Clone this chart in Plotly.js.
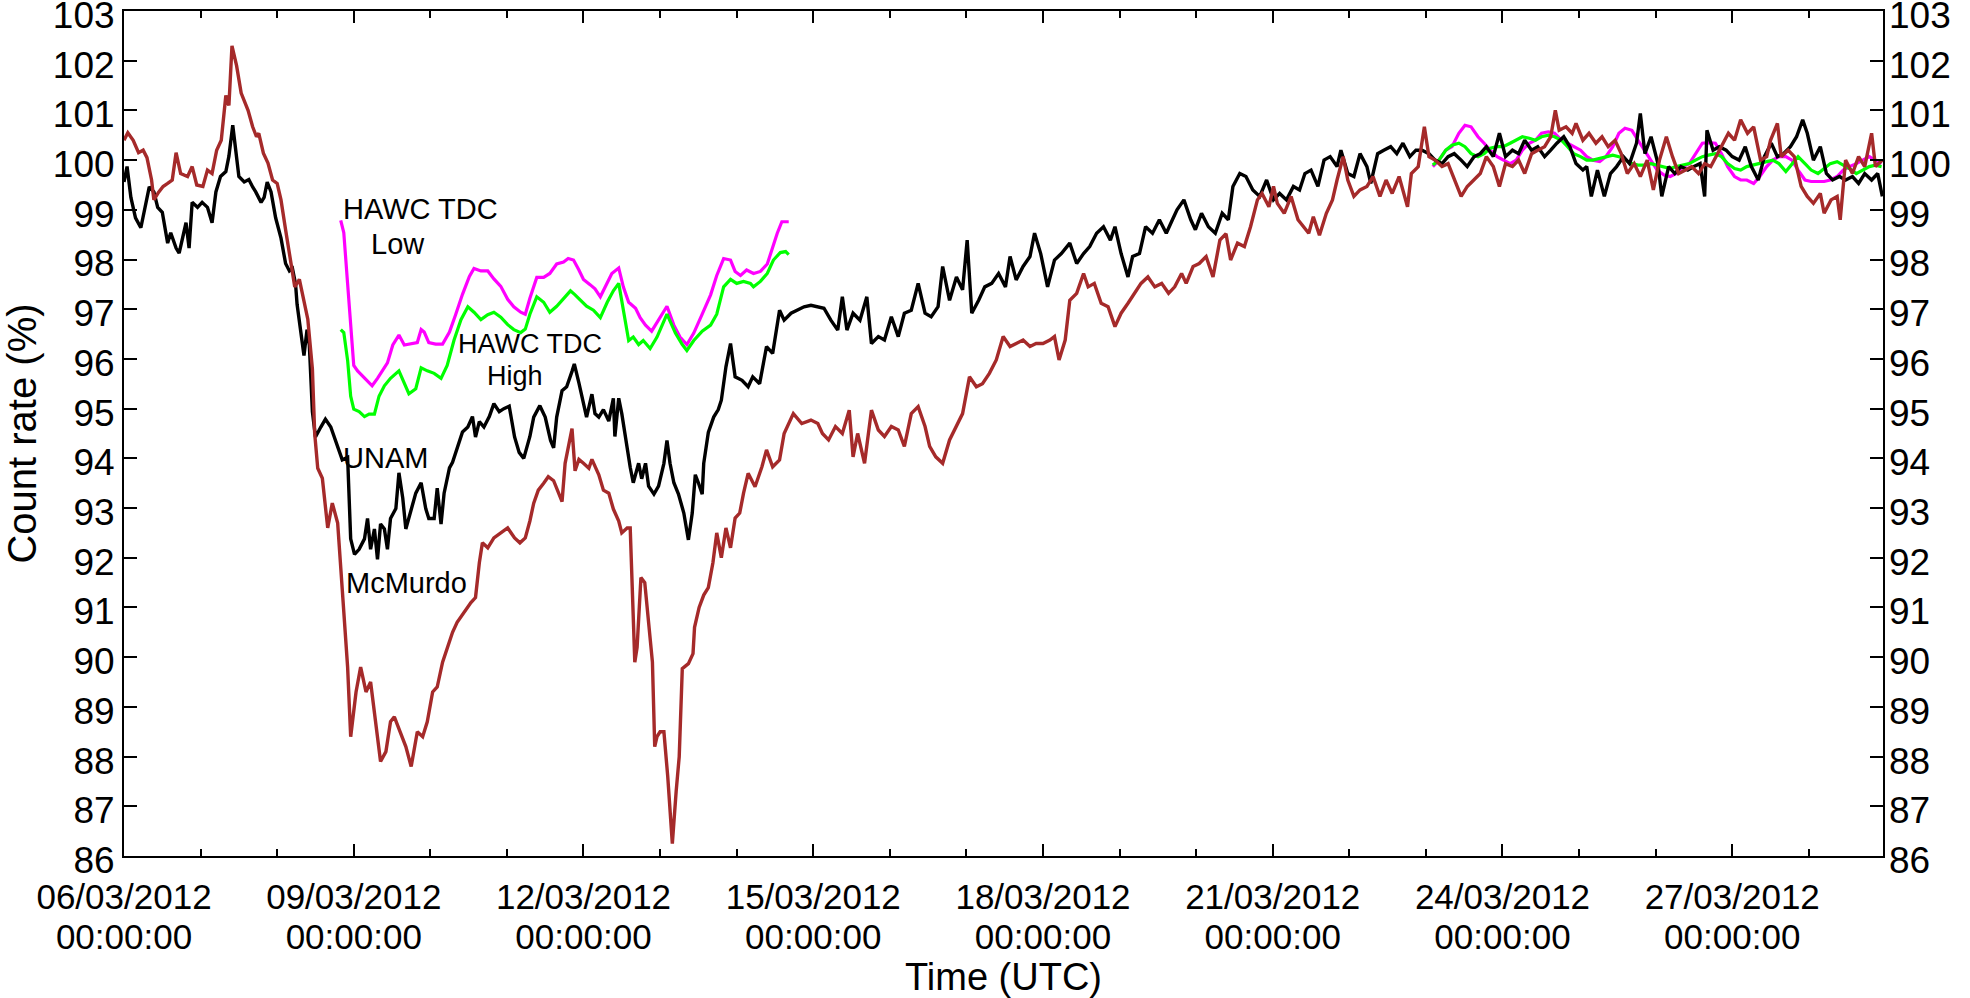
<!DOCTYPE html>
<html>
<head>
<meta charset="utf-8">
<script src="https://cdn.plot.ly/plotly-3.0.1.min.js"></script>
<style>
  html, body { margin: 0; padding: 0; background: #fff; }
  #plot { width: 1970px; height: 998px; }
</style>
</head>
<body>
<div id="plot"></div>
<script>
// time is given as days after 06/03/2012 00:00 UTC
var tickDates = ['2012-03-06', '2012-03-09', '2012-03-12', '2012-03-15', '2012-03-18', '2012-03-21', '2012-03-24', '2012-03-27'];
var tickDateLabels = ['06/03/2012', '09/03/2012', '12/03/2012', '15/03/2012', '18/03/2012', '21/03/2012', '24/03/2012', '27/03/2012'];
var tickTimeLabels = ['00:00:00', '00:00:00', '00:00:00', '00:00:00', '00:00:00', '00:00:00', '00:00:00', '00:00:00'];

// McMurdo neutron monitor
var mcmDays = [0.00,0.05,0.12,0.19,0.25,0.30,0.36,0.39,0.45,0.51,0.57,0.63,0.68,0.74,0.83,0.89,0.95,1.03,1.09,1.15,1.21,1.27,1.33,1.37,1.41,1.47,1.53,1.62,1.68,1.73,1.76,1.82,1.88,1.94,2.00,2.05,2.11,2.17,2.23,2.29,2.35,2.40,2.46,2.49,2.53,2.59,2.66,2.72,2.79,2.87,2.92,2.96,3.03,3.09,3.16,3.22,3.29,3.35,3.42,3.48,3.53,3.61,3.68,3.75,3.83,3.90,3.96,4.03,4.09,4.16,4.22,4.29,4.35,4.44,4.53,4.59,4.64,4.68,4.75,4.83,4.92,5.01,5.10,5.17,5.24,5.30,5.35,5.41,5.48,5.54,5.61,5.67,5.72,5.76,5.80,5.85,5.89,5.94,6.00,6.07,6.11,6.20,6.26,6.33,6.39,6.46,6.50,6.57,6.61,6.64,6.67,6.70,6.75,6.80,6.86,6.90,6.93,6.96,7.00,7.05,7.10,7.16,7.21,7.25,7.29,7.37,7.43,7.45,7.51,7.57,7.63,7.69,7.74,7.80,7.86,7.92,7.98,8.04,8.09,8.15,8.24,8.33,8.39,8.47,8.56,8.62,8.74,8.85,8.97,9.06,9.12,9.20,9.29,9.38,9.47,9.52,9.58,9.67,9.76,9.85,9.93,10.02,10.11,10.19,10.28,10.37,10.46,10.52,10.60,10.69,10.78,10.87,10.95,11.04,11.13,11.21,11.30,11.39,11.48,11.57,11.65,11.74,11.83,11.91,12.00,12.09,12.15,12.21,12.29,12.35,12.44,12.53,12.59,12.67,12.76,12.85,12.94,13.02,13.11,13.20,13.28,13.37,13.46,13.55,13.64,13.72,13.81,13.87,13.96,14.04,14.13,14.22,14.31,14.39,14.45,14.54,14.63,14.71,14.80,14.86,14.95,15.01,15.06,15.15,15.24,15.33,15.41,15.47,15.53,15.61,15.70,15.78,15.84,15.92,15.98,16.06,16.14,16.23,16.31,16.40,16.48,16.56,16.65,16.76,16.81,16.90,16.98,17.04,17.12,17.21,17.29,17.37,17.46,17.54,17.63,17.71,17.79,17.88,17.96,18.04,18.13,18.21,18.29,18.38,18.46,18.55,18.63,18.69,18.74,18.83,18.91,18.96,19.05,19.13,19.22,19.30,19.38,19.47,19.55,19.63,19.72,19.80,19.89,19.97,20.05,20.14,20.22,20.30,20.39,20.47,20.56,20.64,20.72,20.81,20.89,20.95,21.03,21.11,21.20,21.28,21.37,21.45,21.50,21.59,21.64,21.73,21.81,21.90,21.98,22.06,22.15,22.20,22.29,22.37,22.41,22.48,22.57,22.65,22.73,22.82,22.87,22.96];
var mcmVals = [100.4,100.55,100.4,100.15,100.2,100.05,99.6,99.2,99.35,99.47,99.53,99.6,100.15,99.73,99.67,99.87,99.5,99.47,99.8,99.73,100.2,100.4,101.3,101.1,102.3,101.9,101.35,101.0,100.67,100.47,100.54,100.14,99.94,99.6,99.53,99.2,98.6,98.0,97.45,97.6,97.18,96.8,95.8,94.5,93.8,93.6,92.6,93.1,92.7,90.8,89.8,88.4,89.3,89.8,89.3,89.5,88.6,87.9,88.1,88.7,88.8,88.5,88.2,87.8,88.5,88.4,88.7,89.3,89.4,89.9,90.2,90.5,90.7,90.9,91.1,91.2,91.9,92.3,92.2,92.4,92.5,92.6,92.4,92.3,92.4,92.74,93.1,93.36,93.5,93.63,93.55,93.3,93.13,93.9,94.2,94.6,93.75,93.98,93.9,93.8,93.98,93.67,93.36,93.3,92.98,92.74,92.5,92.6,92.6,91.0,89.9,90.2,91.6,91.5,90.6,89.9,88.2,88.4,88.5,88.5,87.6,86.25,87.3,88.0,89.77,89.87,90.07,90.6,91.0,91.25,91.4,91.9,92.5,92.0,92.6,92.2,92.8,92.9,93.3,93.7,93.43,93.83,94.17,93.83,93.97,94.5,94.9,94.7,94.77,94.7,94.5,94.37,94.64,94.5,94.97,94.03,94.5,93.9,94.97,94.57,94.44,94.64,94.57,94.24,94.9,95.04,94.64,94.24,94.03,93.9,94.37,94.64,94.9,95.64,95.44,95.5,95.71,95.98,96.45,96.25,96.31,96.38,96.25,96.31,96.31,96.38,96.45,95.98,96.38,97.18,97.32,97.72,97.45,97.52,97.12,97.05,96.65,96.92,97.12,97.32,97.52,97.65,97.45,97.52,97.32,97.45,97.72,97.52,97.86,97.92,98.06,97.65,98.39,98.52,97.99,98.33,98.26,98.66,99.2,99.33,99.06,99.47,99.13,98.93,99.27,98.8,98.66,98.53,98.86,98.49,98.93,99.2,99.6,100.07,99.6,99.27,99.4,99.47,99.67,99.27,99.6,99.33,99.67,99.06,99.73,99.87,100.67,100.07,100.0,99.87,99.93,99.6,99.27,99.47,99.6,99.73,100.07,99.87,99.47,99.93,99.87,100.0,99.73,100.13,100.2,100.27,100.47,101.0,100.6,100.67,100.54,100.74,100.4,100.54,100.34,100.47,100.27,100.4,100.13,99.73,99.93,99.67,100.0,99.4,100.0,100.47,100.07,99.73,99.8,99.87,99.73,99.93,99.87,100.13,100.34,100.54,100.4,100.81,100.54,100.67,100.0,100.07,100.4,100.74,100.07,100.2,100.07,99.47,99.27,99.13,99.33,98.93,99.2,99.27,98.8,100.0,99.73,100.07,99.87,100.54,99.87,100.0];

// UNAM neutron monitor
var unamDays = [0.00,0.04,0.09,0.15,0.22,0.26,0.33,0.39,0.44,0.50,0.57,0.61,0.68,0.72,0.76,0.81,0.85,0.89,0.96,1.02,1.09,1.15,1.20,1.26,1.33,1.37,1.42,1.46,1.50,1.57,1.63,1.68,1.72,1.79,1.83,1.87,1.92,1.98,2.05,2.11,2.16,2.20,2.24,2.26,2.31,2.35,2.39,2.42,2.46,2.50,2.57,2.63,2.70,2.79,2.85,2.92,2.96,3.01,3.07,3.14,3.18,3.22,3.27,3.31,3.35,3.40,3.44,3.48,3.55,3.59,3.64,3.68,3.75,3.81,3.88,3.94,3.98,4.05,4.09,4.14,4.18,4.25,4.29,4.35,4.42,4.49,4.55,4.59,4.64,4.70,4.77,4.83,4.90,4.96,5.03,5.10,5.16,5.22,5.26,5.30,5.35,5.43,5.50,5.57,5.61,5.65,5.72,5.78,5.85,5.88,5.94,5.98,6.04,6.11,6.15,6.20,6.26,6.33,6.39,6.41,6.46,6.50,6.55,6.61,6.65,6.72,6.76,6.81,6.85,6.92,6.98,7.05,7.09,7.13,7.18,7.24,7.31,7.37,7.42,7.46,7.50,7.55,7.57,7.63,7.70,7.76,7.80,7.86,7.92,7.98,8.07,8.15,8.21,8.30,8.39,8.47,8.56,8.62,8.71,8.80,8.88,8.97,9.06,9.14,9.23,9.32,9.38,9.44,9.52,9.61,9.70,9.76,9.85,9.93,10.02,10.11,10.19,10.28,10.37,10.46,10.54,10.63,10.69,10.78,10.87,10.95,11.01,11.07,11.16,11.24,11.33,11.42,11.51,11.57,11.65,11.74,11.83,11.89,11.97,12.06,12.15,12.24,12.35,12.44,12.53,12.61,12.70,12.79,12.88,12.94,13.02,13.11,13.17,13.26,13.34,13.43,13.52,13.61,13.69,13.75,13.84,13.93,13.99,14.07,14.16,14.25,14.34,14.42,14.48,14.57,14.65,14.74,14.83,14.92,15.01,15.09,15.18,15.27,15.35,15.42,15.50,15.59,15.67,15.75,15.84,15.89,15.98,16.06,16.14,16.23,16.28,16.37,16.45,16.54,16.62,16.70,16.79,16.87,16.95,17.04,17.12,17.21,17.29,17.37,17.46,17.54,17.63,17.71,17.79,17.88,17.96,18.04,18.13,18.21,18.29,18.38,18.46,18.55,18.63,18.71,18.80,18.88,18.96,19.05,19.10,19.16,19.24,19.33,19.41,19.49,19.58,19.66,19.75,19.80,19.86,19.94,20.03,20.08,20.17,20.25,20.33,20.42,20.50,20.58,20.64,20.67,20.75,20.83,20.92,21.00,21.09,21.17,21.25,21.34,21.42,21.51,21.59,21.67,21.76,21.84,21.92,21.98,22.06,22.15,22.23,22.31,22.40,22.48,22.57,22.65,22.73,22.82,22.90,22.96];
var unamVals = [99.56,99.87,99.25,98.84,98.64,98.95,99.46,99.36,99.05,98.95,98.33,98.54,98.23,98.13,98.43,98.74,98.23,99.15,99.05,99.15,99.05,98.74,99.36,99.67,99.77,100.08,100.7,100.18,99.67,99.56,99.61,99.46,99.36,99.15,99.25,99.56,99.36,98.84,98.43,97.92,97.77,97.82,97.51,97.1,96.48,96.07,96.59,96.28,94.94,94.43,94.63,94.79,94.63,94.22,93.97,94.02,92.38,92.07,92.17,92.38,92.79,92.17,92.58,91.97,92.68,92.58,92.17,92.79,92.99,93.71,93.2,92.58,92.99,93.3,93.51,92.99,92.79,92.79,93.4,92.68,93.3,93.81,93.92,94.22,94.53,94.63,94.84,94.43,94.74,94.63,94.84,95.1,94.94,95.0,95.05,94.43,94.12,94.0,94.2,94.44,94.83,95.06,94.83,94.36,94.21,94.83,95.36,95.44,95.75,95.9,95.52,95.21,94.83,95.29,94.9,94.83,94.98,94.75,95.21,94.44,95.21,94.9,94.36,93.82,93.51,93.9,93.59,93.9,93.44,93.28,93.44,93.9,94.36,93.9,93.51,93.28,92.9,92.36,92.9,93.67,93.51,93.28,93.9,94.52,94.83,94.98,95.17,95.84,96.31,95.64,95.57,95.44,95.64,95.5,96.25,96.11,96.98,96.78,96.92,96.98,97.05,97.08,97.05,97.02,96.78,96.58,97.25,96.58,96.92,96.78,97.25,96.31,96.45,96.38,96.85,96.45,96.92,96.98,97.52,96.92,96.85,97.05,97.86,97.18,97.65,97.39,98.39,96.92,97.18,97.45,97.52,97.72,97.45,98.06,97.59,97.86,98.06,98.53,98.12,97.45,97.99,98.12,98.33,97.92,98.12,98.26,98.53,98.66,98.39,98.66,98.12,97.65,98.06,98.12,98.66,98.53,98.8,98.53,98.8,99.0,99.2,98.8,98.6,98.93,98.66,98.53,98.93,98.8,99.47,99.73,99.67,99.4,99.27,99.6,99.2,99.33,99.2,99.47,99.4,99.73,99.8,99.47,100.0,100.07,99.87,100.2,99.73,99.67,100.13,99.87,99.53,100.13,100.2,100.27,100.13,100.34,100.07,100.2,100.2,100.13,100.0,99.93,100.07,100.13,100.0,99.87,100.07,100.13,100.27,100.07,100.54,100.07,100.2,100.13,100.4,100.2,100.27,100.07,100.2,100.34,100.47,100.27,99.93,99.8,99.87,99.27,99.8,99.27,99.73,99.87,100.07,99.93,100.34,100.94,100.13,100.47,99.93,99.27,99.87,99.73,99.87,99.8,99.87,99.93,99.27,100.6,100.2,100.27,100.2,100.07,100.0,100.27,99.87,99.6,100.07,100.34,100.07,100.13,100.27,100.47,100.81,100.54,100.0,100.27,99.73,99.6,99.67,99.6,99.67,99.53,99.73,99.6,99.73,99.27];

// HAWC TDC Low (magenta) and High (green), two data periods
var lowDays1 = [2.83,2.87,2.92,2.96,3.00,3.05,3.11,3.18,3.24,3.31,3.37,3.44,3.51,3.59,3.66,3.74,3.83,3.88,3.92,3.98,4.07,4.16,4.25,4.33,4.42,4.51,4.57,4.66,4.75,4.83,4.92,5.01,5.09,5.18,5.24,5.30,5.39,5.48,5.56,5.65,5.74,5.80,5.87,5.94,6.00,6.09,6.15,6.22,6.31,6.37,6.46,6.52,6.59,6.68,6.74,6.81,6.89,6.98,7.09,7.18,7.26,7.35,7.44,7.55,7.66,7.74,7.83,7.92,7.98,8.05,8.13,8.22,8.31,8.40,8.46,8.53,8.59,8.68];
var lowVals1 = [98.79,98.54,97.51,96.69,95.87,95.76,95.66,95.56,95.46,95.61,95.76,95.92,96.28,96.48,96.28,96.3,96.33,96.59,96.54,96.33,96.3,96.3,96.54,96.89,97.3,97.66,97.82,97.77,97.77,97.61,97.46,97.2,97.05,96.94,96.9,97.22,97.64,97.64,97.72,97.91,97.95,98.02,97.99,97.79,97.6,97.49,97.41,97.25,97.52,97.72,97.83,97.45,97.14,97.02,96.83,96.68,96.56,96.79,97.06,96.68,96.44,96.29,96.52,96.9,97.29,97.68,98.02,97.99,97.76,97.68,97.79,97.72,97.76,97.91,98.22,98.53,98.76,98.76];
var highDays1 = [2.83,2.87,2.92,2.96,3.00,3.07,3.14,3.20,3.27,3.33,3.40,3.48,3.59,3.66,3.72,3.81,3.88,3.96,4.05,4.14,4.22,4.31,4.40,4.49,4.57,4.66,4.75,4.83,4.92,5.01,5.09,5.18,5.24,5.30,5.39,5.48,5.56,5.65,5.74,5.83,5.89,5.96,6.04,6.13,6.22,6.31,6.39,6.46,6.52,6.59,6.65,6.72,6.78,6.87,6.96,7.09,7.20,7.29,7.35,7.44,7.55,7.66,7.74,7.83,7.92,8.00,8.09,8.18,8.22,8.31,8.40,8.48,8.57,8.64,8.68];
var highVals1 = [96.59,96.53,95.97,95.25,94.99,94.94,94.84,94.89,94.89,95.25,95.46,95.61,95.76,95.51,95.3,95.4,95.82,95.76,95.71,95.61,95.87,96.38,96.79,97.05,96.94,96.79,96.89,96.94,96.84,96.69,96.59,96.53,96.6,96.9,97.25,97.14,96.94,97.06,97.22,97.37,97.29,97.18,97.06,96.98,96.83,97.14,97.37,97.52,96.98,96.37,96.44,96.29,96.37,96.21,96.44,96.9,96.52,96.29,96.17,96.37,96.56,96.68,96.9,97.45,97.6,97.52,97.56,97.52,97.45,97.56,97.72,97.99,98.14,98.16,98.1];
var hawcDays2 = [17.09,17.17,17.26,17.34,17.43,17.51,17.59,17.68,17.76,17.84,17.93,18.01,18.10,18.18,18.26,18.35,18.43,18.51,18.60,18.68,18.77,18.85,18.93,19.02,19.10,19.18,19.27,19.35,19.44,19.52,19.60,19.69,19.77,19.85,19.94,20.02,20.11,20.19,20.27,20.36,20.44,20.52,20.61,20.69,20.78,20.86,20.94,21.03,21.11,21.19,21.28,21.36,21.45,21.53,21.61,21.70,21.78,21.86,21.95,22.03,22.12,22.20,22.28,22.37,22.45,22.53,22.62,22.70,22.79,22.87,22.95];
var lowVals2 = [99.87,100.0,100.2,100.27,100.54,100.7,100.67,100.47,100.34,100.2,100.07,100.0,99.93,100.0,100.2,100.34,100.4,100.54,100.57,100.54,100.4,100.34,100.27,100.2,100.07,100.0,99.97,100.07,100.27,100.54,100.64,100.6,100.4,100.2,100.0,99.8,99.7,99.67,99.73,99.87,99.93,100.13,100.34,100.35,100.34,100.13,99.87,99.67,99.6,99.6,99.53,99.67,99.87,100.0,100.07,100.07,100.0,99.8,99.6,99.57,99.57,99.57,99.6,99.67,99.8,99.87,99.93,100.0,100.07,100.0,99.93];
var highVals2 = [99.9,100.0,100.2,100.3,100.34,100.27,100.13,100.07,100.13,100.24,100.27,100.27,100.34,100.4,100.47,100.44,100.4,100.47,100.5,100.47,100.4,100.27,100.13,100.07,100.0,100.0,100.03,100.07,100.1,100.07,100.0,99.93,99.9,99.9,99.93,99.9,99.87,99.83,99.87,99.9,99.93,100.0,100.07,100.1,100.13,100.07,99.93,99.83,99.8,99.87,99.9,99.93,99.97,100.0,99.93,99.77,99.93,100.07,99.93,99.8,99.73,99.83,99.93,99.97,99.9,99.83,99.73,99.8,99.87,99.9,99.87];

var start = Date.UTC(2012, 2, 6);
function toDate(d) {
    if (d === null) return null;
    return new Date(start + d * 86400000).toISOString().slice(0, 19).replace('T', ' ');
}
function toDates(days) { return days.map(toDate); }

var font = 'Liberation Sans, Arial, Helvetica, sans-serif';
var tickFont = {family: font, size: 37, color: '#000'};
var xTickFont = {family: font, size: 35, color: '#000'};
var xRange = ['2012-03-06 00:00', '2012-03-28 23:15'];
var yRange = [86, 103];

var low = {
    x: toDates(lowDays1.concat([null], hawcDays2)),
    y: lowVals1.concat([null], lowVals2),
    type: 'scatter', mode: 'lines', connectgaps: false,
    line: {color: '#ff00ff', width: 3.2}
};
var high = {
    x: toDates(highDays1.concat([null], hawcDays2)),
    y: highVals1.concat([null], highVals2),
    type: 'scatter', mode: 'lines', connectgaps: false,
    line: {color: '#00ff00', width: 3.2}
};
var unam = {
    x: toDates(unamDays), y: unamVals,
    type: 'scatter', mode: 'lines',
    line: {color: '#000000', width: 3.4}
};
// McMurdo sits on the overlay axes that carry the right-hand labels and the time line
var mcm = {
    x: toDates(mcmDays), y: mcmVals,
    type: 'scatter', mode: 'lines', xaxis: 'x2', yaxis: 'y2',
    line: {color: '#a52a2a', width: 3.4}
};

var data = [low, high, unam, mcm];

function note(day, val, text, size) {
    return {x: toDate(day), y: val, xref: 'x', yref: 'y', text: text, showarrow: false,
            font: {family: font, size: size, color: '#000'}};
}

var layout = {
    width: 1970,
    height: 998,
    margin: {l: 124, r: 87, t: 11, b: 142},
    paper_bgcolor: '#fff',
    plot_bgcolor: '#fff',
    showlegend: false,
    xaxis: {
        type: 'date',
        range: xRange,
        tickmode: 'array',
        tickvals: tickDates,
        ticktext: tickDateLabels,
        ticks: 'inside', ticklen: 12, tickwidth: 2, tickcolor: '#000',
        minor: {tickmode: 'linear', tick0: '2012-03-06', dtick: 86400000,
                ticks: 'inside', ticklen: 7, tickwidth: 2, tickcolor: '#000', showgrid: false},
        showline: true, linecolor: '#000', linewidth: 2, mirror: 'allticks',
        showgrid: false, zeroline: false,
        tickfont: xTickFont,
        ticklabelstandoff: 9
    },
    xaxis2: {
        type: 'date',
        overlaying: 'x', anchor: 'y2', side: 'bottom',
        range: xRange,
        tickmode: 'array',
        tickvals: tickDates,
        ticktext: tickTimeLabels,
        ticks: '', showline: false, showgrid: false, zeroline: false,
        tickfont: xTickFont,
        ticklabelstandoff: 57,
        title: {text: 'Time (UTC)', font: {family: font, size: 38, color: '#000'}, standoff: 0}
    },
    yaxis: {
        range: yRange, tick0: 86, dtick: 1,
        ticks: 'inside', ticklen: 13, tickwidth: 2, tickcolor: '#000',
        showline: true, linecolor: '#000', linewidth: 2, mirror: true,
        showgrid: false, zeroline: false,
        tickfont: tickFont, ticklabeloverflow: 'allow', ticklabelshift: 4,
        title: {text: 'Count rate (%)', font: {family: font, size: 40, color: '#000'}, standoff: 6}
    },
    yaxis2: {
        overlaying: 'y', anchor: 'x2', side: 'right',
        range: yRange, tick0: 86, dtick: 1,
        ticks: 'inside', ticklen: 13, tickwidth: 2, tickcolor: '#000',
        showline: false, showgrid: false, zeroline: false,
        tickfont: tickFont, ticklabeloverflow: 'allow', ticklabelshift: 4,
        ticklabelstandoff: 5
    },
    annotations: [
        note(3.874, 99.02, 'HAWC TDC', 29),
        note(3.58, 98.31, 'Low', 29),
        note(5.30, 96.3, 'HAWC TDC', 27),
        note(5.11, 95.65, 'High', 27),
        note(3.41, 94.0, 'UNAM', 29),
        note(3.684, 91.5, 'McMurdo', 29)
    ]
};

var config = {responsive: false, displayModeBar: false, staticPlot: true};

Plotly.newPlot('plot', data, layout, config);
</script>
</body>
</html>
